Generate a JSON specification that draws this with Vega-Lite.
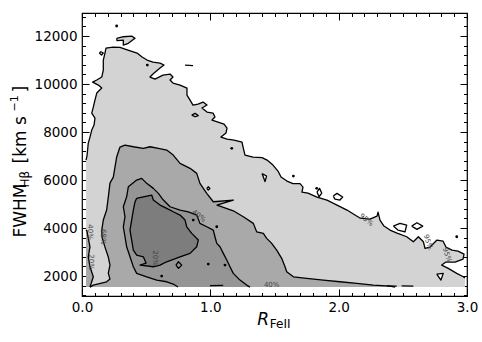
{
"$schema":"https://vega.github.io/schema/vega-lite/v6.json",
"width":385,"height":283,
"autosize":{"type":"none"},
"padding":{"left":82,"top":13,"right":15,"bottom":46},
"background":"white",
"config":{"view":{"stroke":"black","strokeWidth":1.2},
 "axis":{"grid":false,"domain":false,"tickColor":"black","tickWidth":1,"labelColor":"black","titleColor":"black","labelFont":"DejaVu Sans","titleFont":"DejaVu Sans","labelFontSize":13.5,"titleFontWeight":"normal","labelFlush":false,"labelOverlap":false}},
"resolve":{"axis":{"x":"independent","y":"independent"}},
"datasets":{
"poly":[
{"p":"a95","lv":"95","x":0.031,"y":1542,"e":1},
{"p":"a95","lv":"95","x":0.031,"y":6833},{"p":"a95","lv":"95","x":0.039,"y":7000},{"p":"a95","lv":"95","x":0.049,"y":7542},{"p":"a95","lv":"95","x":0.062,"y":7792},{"p":"a95","lv":"95","x":0.076,"y":8083},{"p":"a95","lv":"95","x":0.094,"y":8292},{"p":"a95","lv":"95","x":0.101,"y":8583},{"p":"a95","lv":"95","x":0.076,"y":8792},{"p":"a95","lv":"95","x":0.088,"y":9042},{"p":"a95","lv":"95","x":0.101,"y":9333},{"p":"a95","lv":"95","x":0.115,"y":9625},{"p":"a95","lv":"95","x":0.154,"y":9833},{"p":"a95","lv":"95","x":0.127,"y":9958},{"p":"a95","lv":"95","x":0.083,"y":10083},{"p":"a95","lv":"95","x":0.115,"y":10167},{"p":"a95","lv":"95","x":0.154,"y":10292},{"p":"a95","lv":"95","x":0.166,"y":10583},{"p":"a95","lv":"95","x":0.166,"y":11000},{"p":"a95","lv":"95","x":0.179,"y":11292},{"p":"a95","lv":"95","x":0.187,"y":11500},{"p":"a95","lv":"95","x":0.242,"y":11542},{"p":"a95","lv":"95","x":0.296,"y":11529},{"p":"a95","lv":"95","x":0.358,"y":11417},{"p":"a95","lv":"95","x":0.429,"y":11292},{"p":"a95","lv":"95","x":0.468,"y":11125},{"p":"a95","lv":"95","x":0.507,"y":11000},{"p":"a95","lv":"95","x":0.553,"y":10917},{"p":"a95","lv":"95","x":0.608,"y":10875},{"p":"a95","lv":"95","x":0.639,"y":10792},{"p":"a95","lv":"95","x":0.608,"y":10667},{"p":"a95","lv":"95","x":0.553,"y":10417},{"p":"a95","lv":"95","x":0.530,"y":10292},{"p":"a95","lv":"95","x":0.569,"y":10208},{"p":"a95","lv":"95","x":0.631,"y":10375},{"p":"a95","lv":"95","x":0.686,"y":10417},{"p":"a95","lv":"95","x":0.709,"y":10292},{"p":"a95","lv":"95","x":0.686,"y":10167},{"p":"a95","lv":"95","x":0.709,"y":10042},{"p":"a95","lv":"95","x":0.764,"y":9958},{"p":"a95","lv":"95","x":0.818,"y":9833},{"p":"a95","lv":"95","x":0.818,"y":9542},{"p":"a95","lv":"95","x":0.842,"y":9333},{"p":"a95","lv":"95","x":0.865,"y":9125},{"p":"a95","lv":"95","x":0.904,"y":9167},{"p":"a95","lv":"95","x":0.943,"y":9250},{"p":"a95","lv":"95","x":0.974,"y":9125},{"p":"a95","lv":"95","x":0.935,"y":9000},{"p":"a95","lv":"95","x":0.974,"y":8833},{"p":"a95","lv":"95","x":1.021,"y":8792},{"p":"a95","lv":"95","x":1.036,"y":8625},{"p":"a95","lv":"95","x":1.013,"y":8500},{"p":"a95","lv":"95","x":1.060,"y":8417},{"p":"a95","lv":"95","x":1.107,"y":8333},{"p":"a95","lv":"95","x":1.130,"y":8167},{"p":"a95","lv":"95","x":1.122,"y":7958},{"p":"a95","lv":"95","x":1.083,"y":7792},{"p":"a95","lv":"95","x":1.130,"y":7708},{"p":"a95","lv":"95","x":1.184,"y":7667},{"p":"a95","lv":"95","x":1.247,"y":7583},{"p":"a95","lv":"95","x":1.255,"y":7375},{"p":"a95","lv":"95","x":1.270,"y":7042},{"p":"a95","lv":"95","x":1.333,"y":6958},{"p":"a95","lv":"95","x":1.403,"y":6938},{"p":"a95","lv":"95","x":1.442,"y":6833},{"p":"a95","lv":"95","x":1.488,"y":6625},{"p":"a95","lv":"95","x":1.527,"y":6375},{"p":"a95","lv":"95","x":1.551,"y":6125},{"p":"a95","lv":"95","x":1.597,"y":5958},{"p":"a95","lv":"95","x":1.644,"y":5854},{"p":"a95","lv":"95","x":1.699,"y":5854},{"p":"a95","lv":"95","x":1.722,"y":5708},{"p":"a95","lv":"95","x":1.714,"y":5500},{"p":"a95","lv":"95","x":1.761,"y":5458},{"p":"a95","lv":"95","x":1.831,"y":5292},{"p":"a95","lv":"95","x":1.909,"y":5167},{"p":"a95","lv":"95","x":1.987,"y":4958},{"p":"a95","lv":"95","x":2.065,"y":4750},{"p":"a95","lv":"95","x":2.127,"y":4542},{"p":"a95","lv":"95","x":2.166,"y":4417},{"p":"a95","lv":"95","x":2.244,"y":4375},{"p":"a95","lv":"95","x":2.299,"y":4500},{"p":"a95","lv":"95","x":2.307,"y":4667},{"p":"a95","lv":"95","x":2.322,"y":4333},{"p":"a95","lv":"95","x":2.353,"y":4083},{"p":"a95","lv":"95","x":2.400,"y":3917},{"p":"a95","lv":"95","x":2.455,"y":3792},{"p":"a95","lv":"95","x":2.530,"y":3639},{"p":"a95","lv":"95","x":2.582,"y":3429},{"p":"a95","lv":"95","x":2.621,"y":3639},{"p":"a95","lv":"95","x":2.660,"y":3429},{"p":"a95","lv":"95","x":2.673,"y":3154},{"p":"a95","lv":"95","x":2.712,"y":3208},{"p":"a95","lv":"95","x":2.766,"y":3500},{"p":"a95","lv":"95","x":2.813,"y":3458},{"p":"a95","lv":"95","x":2.836,"y":3208},{"p":"a95","lv":"95","x":2.883,"y":3083},{"p":"a95","lv":"95","x":2.930,"y":3042},{"p":"a95","lv":"95","x":2.977,"y":2917},{"p":"a95","lv":"95","x":2.969,"y":2708},{"p":"a95","lv":"95","x":2.907,"y":2583},{"p":"a95","lv":"95","x":2.836,"y":2583},{"p":"a95","lv":"95","x":2.803,"y":2458},{"p":"a95","lv":"95","x":2.854,"y":2321},{"p":"a95","lv":"95","x":2.920,"y":2113},{"p":"a95","lv":"95","x":2.971,"y":1971},{"p":"a95","lv":"95","x":2.984,"y":1917},
{"p":"a95","lv":"95","x":2.984,"y":1542,"e":1},
{"p":"a68","lv":"68","x":0.062,"y":1542},{"p":"a68","lv":"68","x":0.088,"y":1625},{"p":"a68","lv":"68","x":0.192,"y":1763},{"p":"a68","lv":"68","x":0.218,"y":1875},{"p":"a68","lv":"68","x":0.205,"y":2125},{"p":"a68","lv":"68","x":0.218,"y":2458},{"p":"a68","lv":"68","x":0.205,"y":2792},{"p":"a68","lv":"68","x":0.179,"y":3208},{"p":"a68","lv":"68","x":0.156,"y":3625},{"p":"a68","lv":"68","x":0.154,"y":3917},{"p":"a68","lv":"68","x":0.166,"y":4333},{"p":"a68","lv":"68","x":0.192,"y":4750},{"p":"a68","lv":"68","x":0.205,"y":5292},{"p":"a68","lv":"68","x":0.218,"y":5875},{"p":"a68","lv":"68","x":0.244,"y":6125},{"p":"a68","lv":"68","x":0.257,"y":6542},{"p":"a68","lv":"68","x":0.270,"y":6958},{"p":"a68","lv":"68","x":0.296,"y":7375},{"p":"a68","lv":"68","x":0.335,"y":7458},{"p":"a68","lv":"68","x":0.400,"y":7388},{"p":"a68","lv":"68","x":0.478,"y":7321},{"p":"a68","lv":"68","x":0.530,"y":7388},{"p":"a68","lv":"68","x":0.595,"y":7321},{"p":"a68","lv":"68","x":0.660,"y":7250},{"p":"a68","lv":"68","x":0.711,"y":7042},{"p":"a68","lv":"68","x":0.764,"y":6696},{"p":"a68","lv":"68","x":0.842,"y":6488},{"p":"a68","lv":"68","x":0.894,"y":6279},{"p":"a68","lv":"68","x":0.919,"y":5863},{"p":"a68","lv":"68","x":0.972,"y":5446},{"p":"a68","lv":"68","x":1.023,"y":5096},{"p":"a68","lv":"68","x":1.179,"y":5167},{"p":"a68","lv":"68","x":1.052,"y":4958},{"p":"a68","lv":"68","x":1.179,"y":4721},{"p":"a68","lv":"68","x":1.257,"y":4471},{"p":"a68","lv":"68","x":1.335,"y":4196},{"p":"a68","lv":"68","x":1.361,"y":3846},{"p":"a68","lv":"68","x":1.413,"y":3779},{"p":"a68","lv":"68","x":1.439,"y":3571},{"p":"a68","lv":"68","x":1.478,"y":3363},{"p":"a68","lv":"68","x":1.517,"y":3083},{"p":"a68","lv":"68","x":1.556,"y":2738},{"p":"a68","lv":"68","x":1.582,"y":2388},{"p":"a68","lv":"68","x":1.595,"y":2179},{"p":"a68","lv":"68","x":1.647,"y":1971},{"p":"a68","lv":"68","x":1.751,"y":1904},{"p":"a68","lv":"68","x":1.880,"y":1833},{"p":"a68","lv":"68","x":2.010,"y":1763},{"p":"a68","lv":"68","x":2.141,"y":1696},{"p":"a68","lv":"68","x":2.270,"y":1625},{"p":"a68","lv":"68","x":2.400,"y":1583},{"p":"a68","lv":"68","x":2.439,"y":1542},
{"p":"s68","lv":"68","x":0.031,"y":3917},{"p":"s68","lv":"68","x":0.039,"y":3875},{"p":"s68","lv":"68","x":0.049,"y":3583},{"p":"s68","lv":"68","x":0.062,"y":3221},{"p":"s68","lv":"68","x":0.049,"y":2804},{"p":"s68","lv":"68","x":0.062,"y":2388},{"p":"s68","lv":"68","x":0.088,"y":1971},{"p":"s68","lv":"68","x":0.070,"y":1667},{"p":"s68","lv":"68","x":0.062,"y":1542},{"p":"s68","lv":"68","x":0.031,"y":1542,"e":1},
{"p":"b40","lv":"40","x":0.748,"y":1542},{"p":"b40","lv":"40","x":0.711,"y":1667},{"p":"b40","lv":"40","x":0.660,"y":1763},{"p":"b40","lv":"40","x":0.582,"y":1833},{"p":"b40","lv":"40","x":0.504,"y":1971},{"p":"b40","lv":"40","x":0.426,"y":2113},{"p":"b40","lv":"40","x":0.400,"y":2388},{"p":"b40","lv":"40","x":0.374,"y":2804},{"p":"b40","lv":"40","x":0.348,"y":3221},{"p":"b40","lv":"40","x":0.335,"y":3638},{"p":"b40","lv":"40","x":0.322,"y":4054},{"p":"b40","lv":"40","x":0.335,"y":4471},{"p":"b40","lv":"40","x":0.322,"y":4888},{"p":"b40","lv":"40","x":0.348,"y":5304},{"p":"b40","lv":"40","x":0.361,"y":5721},{"p":"b40","lv":"40","x":0.426,"y":6000},{"p":"b40","lv":"40","x":0.465,"y":6071},{"p":"b40","lv":"40","x":0.504,"y":5863},{"p":"b40","lv":"40","x":0.556,"y":5654},{"p":"b40","lv":"40","x":0.595,"y":5446},{"p":"b40","lv":"40","x":0.634,"y":5167},{"p":"b40","lv":"40","x":0.686,"y":4888},{"p":"b40","lv":"40","x":0.764,"y":4750},{"p":"b40","lv":"40","x":0.828,"y":4679},{"p":"b40","lv":"40","x":0.894,"y":4542},{"p":"b40","lv":"40","x":0.919,"y":4196},{"p":"b40","lv":"40","x":0.972,"y":4054},{"p":"b40","lv":"40","x":1.023,"y":3917},{"p":"b40","lv":"40","x":1.036,"y":3638},{"p":"b40","lv":"40","x":1.050,"y":3363},{"p":"b40","lv":"40","x":1.075,"y":3221},{"p":"b40","lv":"40","x":1.101,"y":2946},{"p":"b40","lv":"40","x":1.128,"y":2667},{"p":"b40","lv":"40","x":1.153,"y":2388},{"p":"b40","lv":"40","x":1.179,"y":2113},{"p":"b40","lv":"40","x":1.231,"y":1833},{"p":"b40","lv":"40","x":1.283,"y":1625},{"p":"b40","lv":"40","x":1.309,"y":1542},
{"p":"c20","lv":"20","x":0.426,"y":5238},{"p":"c20","lv":"20","x":0.478,"y":5304},{"p":"c20","lv":"20","x":0.543,"y":5375},{"p":"c20","lv":"20","x":0.556,"y":5167},{"p":"c20","lv":"20","x":0.608,"y":4958},{"p":"c20","lv":"20","x":0.660,"y":4821},{"p":"c20","lv":"20","x":0.711,"y":4679},{"p":"c20","lv":"20","x":0.764,"y":4542},{"p":"c20","lv":"20","x":0.803,"y":4333},{"p":"c20","lv":"20","x":0.816,"y":4054},{"p":"c20","lv":"20","x":0.855,"y":3779},{"p":"c20","lv":"20","x":0.906,"y":3500},{"p":"c20","lv":"20","x":0.894,"y":3221},{"p":"c20","lv":"20","x":0.842,"y":2946},{"p":"c20","lv":"20","x":0.764,"y":2804},{"p":"c20","lv":"20","x":0.660,"y":2596},{"p":"c20","lv":"20","x":0.608,"y":2458},{"p":"c20","lv":"20","x":0.556,"y":2388},{"p":"c20","lv":"20","x":0.452,"y":2458},{"p":"c20","lv":"20","x":0.499,"y":2542},{"p":"c20","lv":"20","x":0.478,"y":2804},{"p":"c20","lv":"20","x":0.426,"y":2875},{"p":"c20","lv":"20","x":0.400,"y":3083},{"p":"c20","lv":"20","x":0.387,"y":3500},{"p":"c20","lv":"20","x":0.374,"y":3917},{"p":"c20","lv":"20","x":0.387,"y":4333},{"p":"c20","lv":"20","x":0.400,"y":4750},{"p":"c20","lv":"20","x":0.413,"y":5096},{"p":"c20","lv":"20","x":0.426,"y":5238},
{"p":"h1","lv":"hole","x":1.403,"y":6271},{"p":"h1","lv":"hole","x":1.438,"y":6167},{"p":"h1","lv":"hole","x":1.426,"y":5938},{"p":"h1","lv":"hole","x":1.403,"y":6271},
{"p":"h2","lv":"hole","x":1.831,"y":5500},{"p":"h2","lv":"hole","x":1.851,"y":5654},{"p":"h2","lv":"hole","x":1.868,"y":5458},{"p":"h2","lv":"hole","x":1.847,"y":5304},{"p":"h2","lv":"hole","x":1.831,"y":5500},
{"p":"h3","lv":"hole","x":1.958,"y":5333},{"p":"h3","lv":"hole","x":1.987,"y":5446},{"p":"h3","lv":"hole","x":2.031,"y":5292},{"p":"h3","lv":"hole","x":2.010,"y":5167},{"p":"h3","lv":"hole","x":1.971,"y":5208},{"p":"h3","lv":"hole","x":1.958,"y":5333},
{"p":"h4","lv":"hole","x":2.426,"y":4083},{"p":"h4","lv":"hole","x":2.478,"y":4196},{"p":"h4","lv":"hole","x":2.530,"y":4125},{"p":"h4","lv":"hole","x":2.517,"y":3846},{"p":"h4","lv":"hole","x":2.462,"y":3917},{"p":"h4","lv":"hole","x":2.426,"y":4083},
{"p":"h5","lv":"hole","x":2.569,"y":4083},{"p":"h5","lv":"hole","x":2.610,"y":4221},{"p":"h5","lv":"hole","x":2.655,"y":4083},{"p":"h5","lv":"hole","x":2.610,"y":3946},{"p":"h5","lv":"hole","x":2.569,"y":4083},
{"p":"h6","lv":"hole","x":2.764,"y":2083},{"p":"h6","lv":"hole","x":2.815,"y":2113},{"p":"h6","lv":"hole","x":2.797,"y":1833},{"p":"h6","lv":"hole","x":2.764,"y":2083},
{"p":"h7","lv":"hole","x":0.135,"y":11292},{"p":"h7","lv":"hole","x":0.148,"y":11346},{"p":"h7","lv":"hole","x":0.166,"y":11292},{"p":"h7","lv":"hole","x":0.152,"y":11208},{"p":"h7","lv":"hole","x":0.135,"y":11292},
{"p":"k1","lv":"blob","x":0.270,"y":11904},{"p":"k1","lv":"blob","x":0.322,"y":11971},{"p":"k1","lv":"blob","x":0.387,"y":12000},{"p":"k1","lv":"blob","x":0.413,"y":11904},{"p":"k1","lv":"blob","x":0.361,"y":11696},{"p":"k1","lv":"blob","x":0.322,"y":11625},{"p":"k1","lv":"blob","x":0.322,"y":11833},{"p":"k1","lv":"blob","x":0.273,"y":11813},{"p":"k1","lv":"blob","x":0.270,"y":11904},
{"p":"l1","lv":"line","x":0.803,"y":10792},{"p":"l1","lv":"line","x":0.865,"y":10771},
{"p":"l2","lv":"line","x":0.972,"y":5654},{"p":"l2","lv":"line","x":0.984,"y":5721},{"p":"l2","lv":"line","x":0.997,"y":5654},{"p":"l2","lv":"line","x":0.984,"y":5583},{"p":"l2","lv":"line","x":0.972,"y":5654},
{"p":"l3","lv":"line","x":0.732,"y":2458},{"p":"l3","lv":"line","x":0.752,"y":2596},{"p":"l3","lv":"line","x":0.777,"y":2458},{"p":"l3","lv":"line","x":0.752,"y":2321},{"p":"l3","lv":"line","x":0.732,"y":2458},
{"p":"l4","lv":"line","x":0.855,"y":8708},{"p":"l4","lv":"line","x":0.881,"y":8779},{"p":"l4","lv":"line","x":0.906,"y":8688},{"p":"l4","lv":"line","x":0.881,"y":8638},{"p":"l4","lv":"line","x":0.855,"y":8708},
{"p":"l5","lv":"line","x":2.375,"y":1595},{"p":"l5","lv":"line","x":2.452,"y":1585},
{"p":"l6","lv":"line","x":2.491,"y":1595},{"p":"l6","lv":"line","x":2.582,"y":1585},
{"p":"l7","lv":"line","x":0.997,"y":1600},{"p":"l7","lv":"line","x":1.100,"y":1610}
],
"dots":[{"x":0.270,"y":12417},{"x":0.509,"y":10792},{"x":1.167,"y":7321},{"x":1.647,"y":6167},{"x":1.829,"y":5654},{"x":0.867,"y":4333},{"x":1.050,"y":4054},{"x":0.984,"y":2500},{"x":1.114,"y":2458},{"x":0.621,"y":2000},{"x":2.920,"y":3638}],
"lab90":[{"t":"68%","x":0.166,"y":3638},{"t":"20%","x":0.569,"y":2750},{"t":"40%","x":0.062,"y":3833},{"t":"20%","x":0.070,"y":2583}],
"lab35":[{"t":"95%","x":2.216,"y":4333},{"t":"40%","x":0.91,"y":4500}],
"lab0":[{"t":"40%","x":1.478,"y":1625}],
"lab75":[{"t":"95%","x":2.696,"y":3417},{"t":"95%","x":2.844,"y":2875}]
},
"layer":[
{"data":{"name":"poly"},"transform":[{"filter":"datum.lv === '95'"}],
 "mark":{"type":"line","fill":"#d3d3d3","strokeOpacity":0},
 "encoding":{
  "x":{"field":"x","type":"quantitative","scale":{"domain":[0,3],"nice":false,"zero":false},
   "axis":{"orient":"bottom","values":[0,1,2,3],"format":".1f","tickSize":-7,"labelPadding":11,"title":"R","titleFontStyle":"italic","titleFontSize":17,"titleX":174.7,"titleY":28,"titleAlign":"left","titleBaseline":"alphabetic"}},
  "y":{"field":"y","type":"quantitative","scale":{"domain":[1170,12960],"nice":false,"zero":false},
   "axis":{"orient":"left","values":[2000,4000,6000,8000,10000,12000],"format":"d","tickSize":-7,"labelPadding":12,"title":"FWHM","titleFontSize":17,"titleAngle":270,"titleX":-57,"titleY":224,"titleAlign":"left","titleBaseline":"alphabetic"}},
  "detail":{"field":"p"},"order":{"value":null}}},
{"data":{"name":"poly"},"transform":[{"filter":"datum.lv === '68'"}],
 "mark":{"type":"line","fill":"#a9a9a9","strokeOpacity":0},
 "encoding":{
  "x":{"field":"x","type":"quantitative","scale":{"domain":[0,3],"nice":false,"zero":false},
   "axis":{"orient":"bottom","values":[0.1,0.2,0.3,0.4,0.5,0.6,0.7,0.8,0.9,1.1,1.2,1.3,1.4,1.5,1.6,1.7,1.8,1.9,2.1,2.2,2.3,2.4,2.5,2.6,2.7,2.8,2.9],"tickSize":-3.5,"labels":false,"title":"FeII","titleFontSize":12,"titleX":187.3,"titleY":31,"titleAlign":"left","titleBaseline":"alphabetic"}},
  "y":{"field":"y","type":"quantitative","scale":{"domain":[1170,12960],"nice":false,"zero":false},
   "axis":{"orient":"left","values":[1200,1600,2400,2800,3200,3600,4400,4800,5200,5600,6400,6800,7200,7600,8400,8800,9200,9600,10400,10800,11200,11600,12400,12800],"tickSize":-3.5,"labels":false,"title":"Hβ","titleFontSize":12,"titleAngle":270,"titleX":-53.5,"titleY":174,"titleAlign":"left","titleBaseline":"alphabetic"}},
  "detail":{"field":"p"},"order":{"value":null}}},
{"data":{"name":"poly"},"transform":[{"filter":"datum.lv === '40'"}],
 "mark":{"type":"line","fill":"#959595","strokeOpacity":0},
 "encoding":{
  "x":{"field":"x","type":"quantitative","scale":{"domain":[0,3],"nice":false,"zero":false},
   "axis":{"orient":"top","values":[0,1,2,3],"tickSize":-7,"labels":false,"title":null}},
  "y":{"field":"y","type":"quantitative","scale":{"domain":[1170,12960],"nice":false,"zero":false},
   "axis":{"orient":"right","values":[2000,4000,6000,8000,10000,12000],"tickSize":-7,"labels":false,"title":"[km s","titleFontSize":17,"titleAngle":270,"titleX":-442,"titleY":150,"titleAlign":"left","titleBaseline":"alphabetic"}},
  "detail":{"field":"p"},"order":{"value":null}}},
{"data":{"name":"poly"},"transform":[{"filter":"datum.lv === '20'"}],
 "mark":{"type":"line","fill":"#7d7d7d","strokeOpacity":0},
 "encoding":{
  "x":{"field":"x","type":"quantitative","scale":{"domain":[0,3],"nice":false,"zero":false},
   "axis":{"orient":"top","values":[0.1,0.2,0.3,0.4,0.5,0.6,0.7,0.8,0.9,1.1,1.2,1.3,1.4,1.5,1.6,1.7,1.8,1.9,2.1,2.2,2.3,2.4,2.5,2.6,2.7,2.8,2.9],"tickSize":-3.5,"labels":false,"title":null}},
  "y":{"field":"y","type":"quantitative","scale":{"domain":[1170,12960],"nice":false,"zero":false},
   "axis":{"orient":"right","values":[1200,1600,2400,2800,3200,3600,4400,4800,5200,5600,6400,6800,7200,7600,8400,8800,9200,9600,10400,10800,11200,11600,12400,12800],"tickSize":-3.5,"labels":false,"title":null}},
  "detail":{"field":"p"},"order":{"value":null}}},
{"data":{"name":"poly"},"transform":[{"filter":"datum.lv === 'hole'"}],
 "mark":{"type":"line","fill":"white","strokeOpacity":0},
 "encoding":{"x":{"field":"x","type":"quantitative","axis":null},
  "y":{"field":"y","type":"quantitative","axis":{"orient":"right","ticks":false,"labels":false,"domain":false,"title":"−1","titleFontSize":11,"titleAngle":270,"titleX":-450,"titleY":98,"titleAlign":"left","titleBaseline":"alphabetic"}},
  "detail":{"field":"p"},"order":{"value":null}}},
{"data":{"name":"poly"},"transform":[{"filter":"datum.lv === 'blob'"}],
 "mark":{"type":"line","fill":"#d3d3d3","strokeOpacity":0},
 "encoding":{"x":{"field":"x","type":"quantitative","axis":null},
  "y":{"field":"y","type":"quantitative","axis":{"orient":"right","ticks":false,"labels":false,"domain":false,"title":"]","titleFontSize":17,"titleAngle":270,"titleX":-442,"titleY":79,"titleAlign":"left","titleBaseline":"alphabetic"}},
  "detail":{"field":"p"},"order":{"value":null}}},
{"data":{"name":"poly"},"transform":[{"filter":"datum.e !== 1"}],
 "mark":{"type":"line","stroke":"black","strokeWidth":1.3,"strokeJoin":"round"},
 "encoding":{"x":{"field":"x","type":"quantitative","axis":null},"y":{"field":"y","type":"quantitative","axis":null},"detail":{"field":"p"},"order":{"value":null}}},
{"data":{"name":"dots"},
 "mark":{"type":"point","filled":true,"color":"black","size":8,"opacity":1},
 "encoding":{"x":{"field":"x","type":"quantitative","axis":null},"y":{"field":"y","type":"quantitative","axis":null}}},
{"data":{"name":"lab90"},
 "mark":{"type":"text","angle":90,"fontSize":7,"font":"DejaVu Sans","color":"#444"},
 "encoding":{"x":{"field":"x","type":"quantitative","axis":null},"y":{"field":"y","type":"quantitative","axis":null},"text":{"field":"t"}}},
{"data":{"name":"lab35"},
 "mark":{"type":"text","angle":38,"fontSize":7,"font":"DejaVu Sans","color":"#444"},
 "encoding":{"x":{"field":"x","type":"quantitative","axis":null},"y":{"field":"y","type":"quantitative","axis":null},"text":{"field":"t"}}},
{"data":{"name":"lab0"},
 "mark":{"type":"text","angle":0,"fontSize":7,"font":"DejaVu Sans","color":"#444"},
 "encoding":{"x":{"field":"x","type":"quantitative","axis":null},"y":{"field":"y","type":"quantitative","axis":null},"text":{"field":"t"}}},
{"data":{"name":"lab75"},
 "mark":{"type":"text","angle":72,"fontSize":7,"font":"DejaVu Sans","color":"#444"},
 "encoding":{"x":{"field":"x","type":"quantitative","axis":null},"y":{"field":"y","type":"quantitative","axis":null},"text":{"field":"t"}}}
]
}
